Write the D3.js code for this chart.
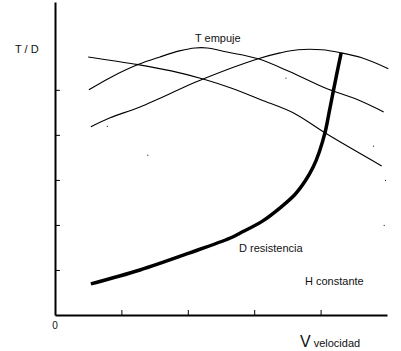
<!DOCTYPE html>
<html>
<head>
<meta charset="utf-8">
<script src="https://cdn.jsdelivr.net/npm/d3@7"></script>
<style>
  body { margin: 0; background: #fff; }
  text { font-family: "Liberation Sans", Arial, sans-serif; fill: #111; }
</style>
</head>
<body>
<div id="chart"></div>
<script>
// values: x = velocidad, y = T / D (arbitrary units)
const thrustA = [[0.51,5.0],[0.83,5.27],[1.25,5.56],[1.58,5.73],[1.89,5.87],[2.11,5.93],[2.29,5.93],[2.59,5.84],[3.06,5.69],[3.54,5.4],[4.07,5.04],[4.56,4.78],[4.95,4.51]];
const thrustB = [[0.5,5.73],[1.25,5.56],[1.75,5.42],[2.23,5.24],[2.65,5.04],[3.1,4.78],[3.6,4.48],[4.07,4.04],[4.92,3.31]];
const thrustC = [[0.54,4.18],[0.83,4.38],[1.28,4.62],[2.23,5.24],[3.06,5.69],[3.39,5.82],[3.66,5.89],[4.02,5.89],[4.31,5.82],[4.62,5.71],[5.02,5.47]];
const drag = [[0.54,0.69],[1.28,1.0],[2.03,1.38],[2.64,1.71],[2.79,1.82],[3.13,2.09],[3.39,2.38],[3.61,2.67],[3.77,2.98],[3.89,3.29],[3.98,3.62],[4.07,4.07],[4.13,4.51],[4.19,4.96],[4.25,5.4],[4.31,5.82]];
const strayDots = [[3.47,5.27],[0.78,4.2],[1.39,3.56],[4.79,3.76],[4.97,3.0],[4.95,2.0]];
const xTicks = [1, 2, 3, 4];
const yTicks = [1, 2, 3, 4, 5];

const width = 401, height = 351;
const svg = d3.select('#chart').append('svg')
  .attr('width', width)
  .attr('height', height);

const x = d3.scaleLinear().domain([0, 5]).range([55, 387]);
const y = d3.scaleLinear().domain([0, 6.95]).range([315, 2]);

// axes
const xAxis = svg.append('g')
  .attr('transform', `translate(0,${y(0)})`)
  .call(d3.axisBottom(x).tickValues(xTicks).tickSize(-5).tickSizeOuter(0).tickFormat(''));
const yAxis = svg.append('g')
  .attr('transform', `translate(${x(0)},0)`)
  .call(d3.axisLeft(y).tickValues(yTicks).tickSize(-5).tickSizeOuter(0).tickFormat(''));
[xAxis, yAxis].forEach(a => {
  a.select('.domain').attr('stroke', '#000').attr('stroke-width', 2);
  a.selectAll('.tick line').attr('stroke', '#000').attr('stroke-width', 1);
});

const line = d3.line()
  .x(d => x(d[0]))
  .y(d => y(d[1]))
  .curve(d3.curveCatmullRom.alpha(0.5));

// thrust curves
[thrustA, thrustB, thrustC].forEach(s => {
  svg.append('path')
    .datum(s)
    .attr('d', line)
    .attr('fill', 'none')
    .attr('stroke', '#000')
    .attr('stroke-width', 1.1);
});

// drag curve
svg.append('path')
  .datum(drag)
  .attr('d', line)
  .attr('fill', 'none')
  .attr('stroke', '#000')
  .attr('stroke-width', 3.5);

svg.selectAll('.dot')
  .data(strayDots)
  .join('rect')
  .attr('class', 'dot')
  .attr('x', d => x(d[0]))
  .attr('y', d => y(d[1]))
  .attr('width', 1)
  .attr('height', 1)
  .attr('fill', '#000');

// labels
svg.append('text').attr('x', 15).attr('y', 53).attr('font-size', 11).text('T / D');
svg.append('text').attr('x', 195).attr('y', 42).attr('font-size', 11).text('T empuje');
svg.append('text').attr('x', 239).attr('y', 252).attr('font-size', 11).text('D resistencia');
svg.append('text').attr('x', 305).attr('y', 285).attr('font-size', 11).text('H constante');
svg.append('text').attr('x', x(0)).attr('y', 329).attr('font-size', 10)
  .attr('text-anchor', 'middle').text('0');
const vLabel = svg.append('text').attr('x', 300).attr('y', 347);
vLabel.append('tspan').attr('font-size', 16).text('V');
vLabel.append('tspan').attr('font-size', 11).attr('dx', 3).text('velocidad');
</script>
</body>
</html>
